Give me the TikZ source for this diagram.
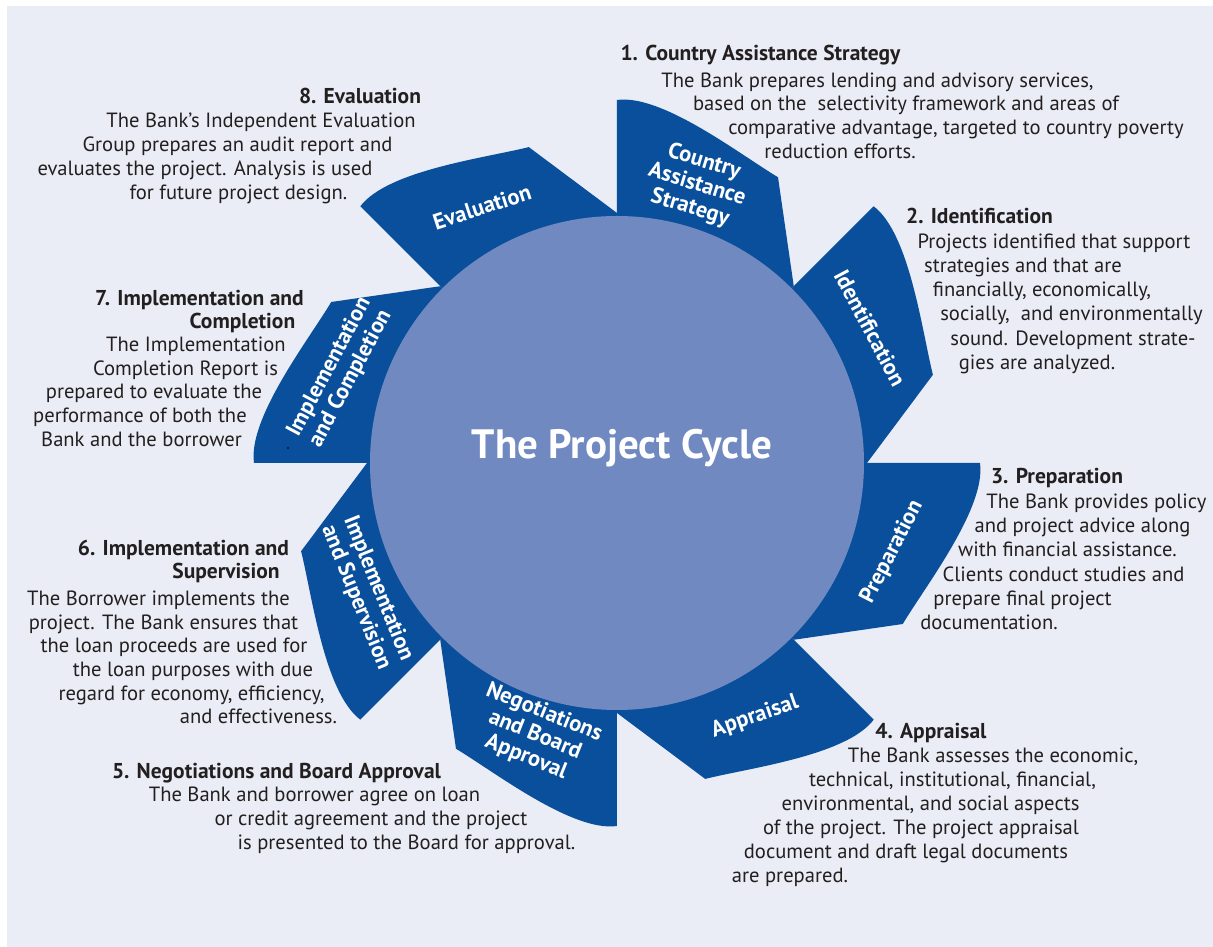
\documentclass[tikz,border=0pt]{standalone}
\usepackage{fontspec}
\setmainfont{PT Sans}
\usetikzlibrary{calc}
\definecolor{bg}{HTML}{EAEDF5}
\definecolor{blade}{HTML}{0A4F9B}
\definecolor{disc}{HTML}{7189C1}
\definecolor{ink}{HTML}{231F20}
\begin{document}
\begin{tikzpicture}[x=1pt,y=1pt,
  lbl/.style={text=white, font=\bfseries\fontsize{22.5}{24}\selectfont, align=center, inner sep=0},
  body/.style={text=ink, font=\fontsize{20.6}{23}\selectfont, anchor=base, inner sep=0},
  head/.style={body, font=\bfseries\fontsize{21.5}{23}\selectfont}]
\useasboundingbox (-617,-484) rectangle (596,463);
\fill[white] (-617,-484) rectangle (596,463);
\fill[bg] (-610,-484) rectangle (596,457);
% blades
\foreach \k in {0,...,7}{
  \begin{scope}[rotate=-45*\k]
    \fill[blade] (90:250) -- (90:363) .. controls +(8:45) and +(149:45) .. (60.6:328) -- (45:250) -- (0,0) -- cycle;
  \end{scope}
}
% central disc
\node[circle, fill=disc, minimum size=494pt, inner sep=0] (disc) at (0,0) {};
\node[text=white, font=\bfseries\fontsize{41}{44}\selectfont, inner sep=0] (title) at (5,15) {The Project Cycle};
% blade labels
\node[lbl, rotate=-17] (l1) at (80,278) {Country\\Assistance\\Strategy};
\node[lbl, rotate=-62] (l2) at (253,135) {Identification};
\node[lbl, rotate=63] (l3) at (275,-89) {Preparation};
\node[lbl, rotate=19] (l4) at (138,-254) {Appraisal};
\node[lbl, rotate=-22] (l5) at (-82,-272) {Negotiations\\and Board\\Approval};
\node[lbl, rotate=-68] (l6) at (-250,-130) {Implementation\\and Supervision};
\node[lbl, rotate=62] (l7) at (-277,90) {Implementation\\and Completion};
\node[lbl, rotate=18] (l8) at (-135,256) {Evaluation};
\fill[ink] (-329,15) circle (1.3) coordinate (dot);
% descriptive texts (image coordinates)
\begin{scope}[shift={(-617,463)}, y=-1pt]
\node[head] (h1) at (760.5,61) {1. Country Assistance Strategy};
\node[body] (t1a) at (877.5,88) {The Bank prepares lending and advisory services,};
\node[body] (t1b) at (906,111) {based on the~ selectivity framework and areas of};
\node[body] (t1c) at (956,135) {comparative advantage, targeted to country poverty};
\node[body] (t1d) at (840,159) {reduction efforts.};

\node[head] (h2) at (979.5,224) {2. Identification};
\node[body] (t2a) at (1054,249) {Projects identified that support};
\node[body] (t2b) at (1023,273) {strategies and that are};
\node[body] (t2c) at (1042,297) {financially, economically,};
\node[body] (t2d) at (1071.5,321) {socially,~ and environmentally};
\node[body] (t2e) at (1073,346) {sound. Development strate-};
\node[body] (t2f) at (1037,370) {gies are analyzed.};

\node[head] (h3) at (1057,484) {3. Preparation};
\node[body] (t3a) at (1096.5,509) {The Bank provides policy};
\node[body] (t3b) at (1082.5,533) {and project advice along};
\node[body] (t3c) at (1067.5,557) {with financial assistance.};
\node[body] (t3d) at (1063.5,582) {Clients conduct studies and};
\node[body] (t3e) at (1022.5,606) {prepare final project};
\node[body] (t3f) at (989,630) {documentation.};

\node[head] (h4) at (931,739) {4. Appraisal};
\node[body] (t4a) at (993,762) {The Bank assesses the economic,};
\node[body] (t4b) at (952.5,786) {technical, institutional, financial,};
\node[body] (t4c) at (930.5,810) {environmental, and social aspects};
\node[body] (t4d) at (921,834) {of the project. The project appraisal};
\node[body] (t4e) at (906,858) {document and draft legal documents};
\node[body] (t4f) at (790,882) {are prepared.};

\node[head] (h5) at (276.5,778) {5. Negotiations and Board Approval};
\node[body] (t5a) at (314.5,801) {The Bank and borrower agree on loan};
\node[body] (t5b) at (371,825) {or credit agreement and the project};
\node[body] (t5c) at (406.5,849) {is presented to the Board for approval.};

\node[head] (h6a) at (183.5,556) {6. Implementation and};
\node[head] (h6b) at (226,579) {Supervision};
\node[body] (t6a) at (158.5,606) {The Borrower implements the};
\node[body] (t6b) at (163.5,630) {project. The Bank ensures that};
\node[body] (t6c) at (174,653) {the loan proceeds are used for};
\node[body] (t6d) at (193,677) {the loan purposes with due};
\node[body] (t6e) at (191.5,701) {regard for economy, efficiency,};
\node[body] (t6f) at (258.5,724) {and effectiveness.};

\node[head] (h7a) at (199.5,306) {7. Implementation and};
\node[head] (h7b) at (242.5,329) {Completion};
\node[body] (t7a) at (196,352) {The Implementation};
\node[body] (t7b) at (185.5,376) {Completion Report is};
\node[body] (t7c) at (154,399) {prepared to evaluate the};
\node[body] (t7d) at (140,423) {performance of both the};
\node[body] (t7e) at (141.5,447) {Bank and the borrower};

\node[head] (h8) at (360,104) {8. Evaluation};
\node[body] (t8a) at (261,128) {The Bank’s Independent Evaluation};
\node[body] (t8b) at (237.5,152) {Group prepares an audit report and};
\node[body] (t8c) at (205,176) {evaluates the project. Analysis is used};
\node[body] (t8d) at (238.5,200) {for future project design.};
\end{scope}
\end{tikzpicture}
\end{document}
